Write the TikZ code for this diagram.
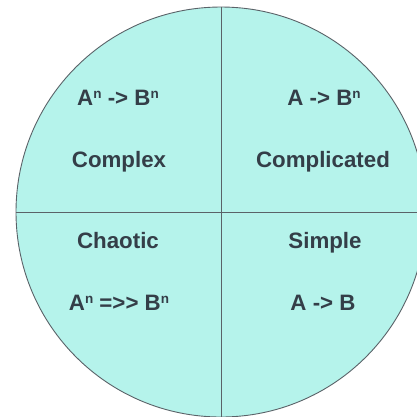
\documentclass[tikz,border=0pt]{standalone}
\usepackage{fontspec}
\setmainfont{Liberation Sans}
\definecolor{fillc}{HTML}{B5F3EB}
\definecolor{linec}{HTML}{5A6268}
\definecolor{txtc}{HTML}{343E48}
\newcommand{\supn}{\raisebox{6.5pt}{\fontsize{13.5}{14}\selectfont n}}
\begin{document}
\begin{tikzpicture}[x=1pt,y=-1pt,
  lbl/.style={font=\fontsize{22.3}{24}\selectfont\bfseries, text=txtc, inner sep=0pt, anchor=base},
  divline/.style={draw=linec, line width=0.9pt}]
\useasboundingbox (0,0) rectangle (417,416);
\begin{scope}
\clip (0,0) rectangle (417,416);
\node[circle, minimum size=410pt, inner sep=0pt, fill=fillc, draw=linec, line width=0.9pt] (c) at (221,212) {};
\draw[divline] (c.north) -- (c.south);
\draw[divline] (c.west) -- (c.east);
\end{scope}
\node[lbl] (t1) at (118,105) {A\supn{} -{}> B\supn};
\node[lbl] (t2) at (119,167) {Complex};
\node[lbl] (t3) at (324,105) {A -{}> B\supn};
\node[lbl] (t4) at (323,167) {Complicated};
\node[lbl] (t5) at (118,248) {Chaotic};
\node[lbl] (t6) at (119,310) {A\supn{} ={}>{}> B\supn};
\node[lbl] (t7) at (325,248) {Simple};
\node[lbl] (t8) at (323,310) {A -{}> B};
\end{tikzpicture}
\end{document}
